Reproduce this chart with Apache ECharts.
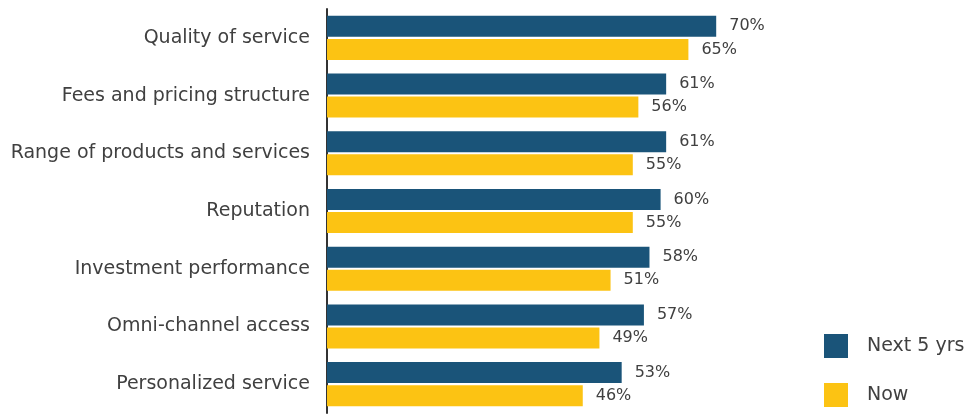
<!DOCTYPE html>
<html>
<head>
<meta charset="utf-8">
<script src="https://cdn.jsdelivr.net/npm/echarts@6/dist/echarts.min.js"></script>
<style>
  html, body { margin: 0; padding: 0; background: #fff; }
  #chart { width: 964px; height: 417px; }
</style>
</head>
<body>
<div id="chart"></div>
<script>
// Selection factors, listed top to bottom
const categories = [
  'Quality of service',
  'Fees and pricing structure',
  'Range of products and services',
  'Reputation',
  'Investment performance',
  'Omni-channel access',
  'Personalized service'
];
const seriesNames = ['Next 5 yrs.', 'Now'];
const nextFiveYears = [70, 61, 61, 60, 58, 57, 53];
const now = [65, 56, 55, 55, 51, 49, 46];

const textColor = '#404040';
const fontFamily = '"DejaVu Sans", sans-serif';

const chart = echarts.init(document.getElementById('chart'), null, { renderer: 'canvas' });

const labelStyle = {
  show: true,
  position: 'right',
  distance: 13,
  color: textColor,
  fontSize: 16,
  fontFamily: fontFamily,
  formatter: p => p.value + '%'
};

chart.setOption({
  animation: false,
  backgroundColor: '#ffffff',
  grid: { left: 327, top: 9, width: 556, height: 404, containLabel: false },
  legend: {
    orient: 'vertical',
    left: 824,
    top: 334,
    padding: 0,
    itemWidth: 24,
    itemHeight: 24,
    itemGap: 25,
    icon: 'rect',
    textStyle: { color: textColor, fontSize: 19, fontFamily: fontFamily, padding: [0, 0, 0, 14] },
    data: seriesNames
  },
  xAxis: {
    type: 'value',
    min: 0,
    max: 100,
    show: false
  },
  yAxis: {
    type: 'category',
    data: categories,
    inverse: true,
    axisLine: { show: true, lineStyle: { color: '#333333', width: 2 } },
    axisTick: { show: false },
    axisLabel: { color: textColor, fontSize: 19, fontFamily: fontFamily, margin: 17 }
  },
  series: [
    {
      name: seriesNames[0],
      type: 'bar',
      data: nextFiveYears,
      barWidth: 21,
      barGap: '10%',
      itemStyle: { color: '#1a5479' },
      label: labelStyle
    },
    {
      name: seriesNames[1],
      type: 'bar',
      data: now,
      barWidth: 21,
      itemStyle: { color: '#fcc313' },
      label: labelStyle
    }
  ]
});
</script>
</body>
</html>
